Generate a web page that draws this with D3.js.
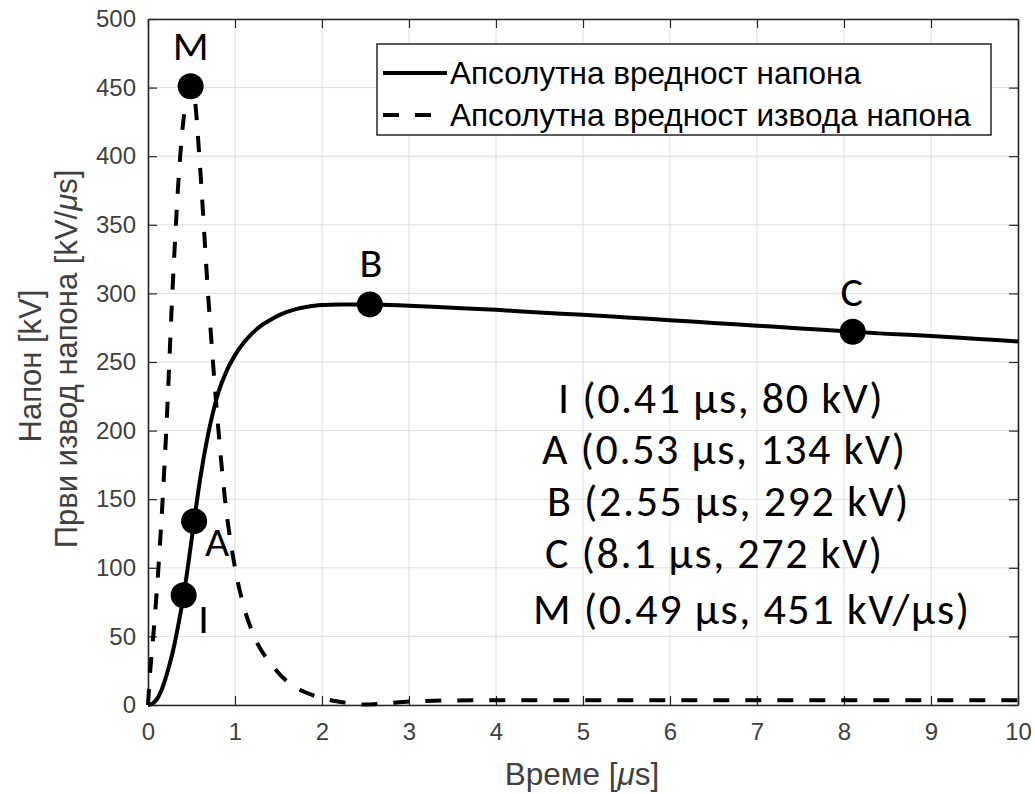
<!DOCTYPE html>
<html>
<head>
<meta charset="utf-8">
<script src="https://cdn.jsdelivr.net/npm/d3@7"></script>
<style>
  html, body { margin: 0; padding: 0; background: #fff; }
  svg { display: block; }
</style>
</head>
<body>
<svg id="chart" width="1035" height="794"></svg>
<script>
// Impulse voltage (kV) against time (µs)
const voltageTime  = [0, 0.05, 0.1, 0.15, 0.2, 0.25, 0.3, 0.35, 0.41, 0.47, 0.53, 0.6, 0.69, 0.75, 0.81, 0.9, 1.0, 1.1, 1.2, 1.3, 1.4, 1.52, 1.7, 1.85, 2.0, 2.2, 2.55, 3.0, 3.5, 4.0, 4.5, 5.0, 5.5, 6.0, 6.5, 7.0, 7.5, 8.1, 8.5, 9.0, 9.5, 10.0];
const voltageValue = [0, 1, 4, 10, 19, 30, 43, 59, 80, 106, 134, 165, 197, 214, 228, 243, 255, 264, 271, 276.5, 280.5, 284.5, 288.5, 290.5, 291.5, 292, 292, 291, 289.5, 288, 286, 284.5, 282.5, 280.5, 278.5, 276.5, 274.5, 272, 270.5, 269, 267, 265];

// Absolute first derivative of the voltage (kV/µs)
const derivTime  = [0, 0.02, 0.06, 0.12, 0.21, 0.28, 0.37, 0.43, 0.49, 0.54, 0.59, 0.69, 0.81, 0.885, 1.0, 1.1, 1.22, 1.44, 1.6, 1.75, 1.9, 2.09, 2.3, 2.5, 2.7, 3.0, 3.5, 4.0, 5.0, 6.0, 7.0, 8.0, 9.0, 10.0];
const derivValue = [0, 20, 50, 100, 200, 300, 400, 438, 451, 440, 400, 300, 200, 150, 100, 72, 50, 28, 17, 11, 7, 3.6, 1.5, 0.3, 1, 2.5, 3.3, 3.5, 3.5, 3.5, 3.5, 3.5, 3.5, 3.5];

// Characteristic points
const pointNames = ["I", "A", "B", "C", "M"];
const pointTime  = [0.41, 0.53, 2.55, 8.1, 0.49];
const pointValue = [80, 134, 292, 272, 451];

const xTicks = [0, 1, 2, 3, 4, 5, 6, 7, 8, 9, 10];
const yTicks = [0, 50, 100, 150, 200, 250, 300, 350, 400, 450, 500];

const legendLabels = ["Апсолутна вредност напона", "Апсолутна вредност извода напона"];
const xLabel = ["Време [", "μ", "s]"];
const yLabelTop = "Напон [kV]";
const yLabelBottom = ["Први извод напона [kV/", "μ", "s]"];

const annotationLines = [
  "I (0.41 µs, 80 kV)",
  "A (0.53 µs, 134 kV)",
  "B (2.55 µs, 292 kV)",
  "C (8.1 µs, 272 kV)",
  "M (0.49 µs, 451 kV/µs)"
];

// ---- layout ----
const svg = d3.select("#chart");
const plotLeft = 148, plotRight = 1018, plotTop = 19, plotBottom = 705;
const x = d3.scaleLinear().domain([0, 10]).range([plotLeft, plotRight]);
const y = d3.scaleLinear().domain([0, 500]).range([plotBottom, plotTop]);

const axisColor = "#262626";
const tickFont = "'Liberation Sans', Arial, Helvetica, sans-serif";
const noteFont = "Carlito, Lato, 'Open Sans', sans-serif";

svg.append("rect").attr("width", 1035).attr("height", 794).attr("fill", "#fff");

// grid
const grid = svg.append("g").attr("stroke", "#dedede").attr("stroke-width", 1);
grid.selectAll("line.gx").data(xTicks).join("line").attr("class", "gx")
  .attr("x1", d => x(d)).attr("x2", d => x(d)).attr("y1", plotTop).attr("y2", plotBottom);
grid.selectAll("line.gy").data(yTicks).join("line").attr("class", "gy")
  .attr("x1", plotLeft).attr("x2", plotRight).attr("y1", d => y(d)).attr("y2", d => y(d));

// axes: ticks point inward, box on all sides
const tickLen = 9;
const gx = svg.append("g").attr("transform", `translate(0,${plotBottom})`)
  .call(d3.axisBottom(x).tickValues(xTicks).tickSizeInner(-tickLen).tickSizeOuter(0).tickPadding(18).tickFormat(d3.format("d")));
const gy = svg.append("g").attr("transform", `translate(${plotLeft},0)`)
  .call(d3.axisLeft(y).tickValues(yTicks).tickSizeInner(-tickLen).tickSizeOuter(0).tickPadding(12).tickFormat(d3.format("d")));
const gxTop = svg.append("g").attr("transform", `translate(0,${plotTop})`)
  .call(d3.axisTop(x).tickValues(xTicks).tickSizeInner(-tickLen).tickSizeOuter(0).tickFormat(""));
const gyRight = svg.append("g").attr("transform", `translate(${plotRight},0)`)
  .call(d3.axisRight(y).tickValues(yTicks).tickSizeInner(-tickLen).tickSizeOuter(0).tickFormat(""));

[gx, gy, gxTop, gyRight].forEach(g => {
  g.select(".domain").attr("stroke", axisColor).attr("stroke-width", 1.6);
  g.selectAll(".tick line").attr("stroke", axisColor).attr("stroke-width", 1.2);
  g.selectAll(".tick text").attr("fill", "#404040").attr("font-family", tickFont).attr("font-size", 24);
});

// curves
const lineGen = d3.line().x(d => x(d[0])).y(d => y(d[1])).curve(d3.curveMonotoneX);
const voltage = voltageTime.map((t, i) => [t, voltageValue[i]]);
const deriv = derivTime.map((t, i) => [t, derivValue[i]]);

svg.append("path").datum(deriv)
  .attr("d", lineGen).attr("fill", "none").attr("stroke", "#000")
  .attr("stroke-width", 4).attr("stroke-dasharray", "16,16");
svg.append("path").datum(voltage)
  .attr("d", lineGen).attr("fill", "none").attr("stroke", "#000")
  .attr("stroke-width", 4).attr("stroke-linejoin", "round");

// markers and their letters
const letterOffset = { I: [20, 38], A: [23, 35], B: [1, -27], C: [-1, -26], M: [0, -26] };
const pts = pointNames.map((n, i) => ({ n, t: pointTime[i], v: pointValue[i] }));
svg.append("g").selectAll("circle").data(pts).join("circle")
  .attr("cx", d => x(d.t)).attr("cy", d => y(d.v)).attr("r", 13).attr("fill", "#000");
svg.append("g").selectAll("text").data(pts).join("text")
  .attr("x", d => x(d.t) + letterOffset[d.n][0])
  .attr("y", d => y(d.v) + letterOffset[d.n][1])
  .attr("text-anchor", "middle")
  .attr("font-family", noteFont).attr("font-size", 42).attr("fill", "#000")
  .text(d => d.n);

// coordinates of the characteristic points
const noteLeft = [558, 542, 547, 545, 533];
const noteBase = [413, 464, 516, 568, 624];
svg.append("g").selectAll("text").data(annotationLines).join("text")
  .attr("x", (d, i) => noteLeft[i]).attr("y", (d, i) => noteBase[i])
  .attr("font-family", noteFont).attr("font-size", 44).attr("letter-spacing", 1.6)
  .attr("fill", "#000")
  .text(d => d);

// legend
const lg = svg.append("g");
lg.append("rect").attr("x", 377).attr("y", 44).attr("width", 614).attr("height", 91)
  .attr("fill", "#fff").attr("stroke", axisColor).attr("stroke-width", 1.5);
const rowY = [73, 115];
lg.append("line").attr("x1", 383).attr("x2", 447).attr("y1", rowY[0]).attr("y2", rowY[0])
  .attr("stroke", "#000").attr("stroke-width", 4);
lg.append("line").attr("x1", 383).attr("x2", 447).attr("y1", rowY[1]).attr("y2", rowY[1])
  .attr("stroke", "#000").attr("stroke-width", 4).attr("stroke-dasharray", "16,16");
lg.selectAll("text").data(legendLabels).join("text")
  .attr("x", 450).attr("y", (d, i) => rowY[i] + 11)
  .attr("font-family", tickFont).attr("font-size", 31.5).attr("fill", "#000")
  .text(d => d);

// axis titles (μ set in italics)
const xt = svg.append("text").attr("x", 582).attr("y", 785)
  .attr("text-anchor", "middle").attr("font-family", tickFont).attr("font-size", 31.5).attr("fill", "#404040");
xt.selectAll("tspan").data(xLabel).join("tspan")
  .attr("font-style", (d, i) => i === 1 ? "italic" : null).text(d => d);

const midY = (plotTop + plotBottom) / 2;
svg.append("text").attr("transform", `translate(41,${midY + 4}) rotate(-90)`)
  .attr("text-anchor", "middle").attr("font-family", tickFont).attr("font-size", 31).attr("fill", "#404040")
  .text(yLabelTop);
const yt = svg.append("text").attr("transform", `translate(77,${midY - 3}) rotate(-90)`)
  .attr("text-anchor", "middle").attr("font-family", tickFont).attr("font-size", 31).attr("fill", "#404040");
yt.selectAll("tspan").data(yLabelBottom).join("tspan")
  .attr("font-style", (d, i) => i === 1 ? "italic" : null).text(d => d);
</script>
</body>
</html>
